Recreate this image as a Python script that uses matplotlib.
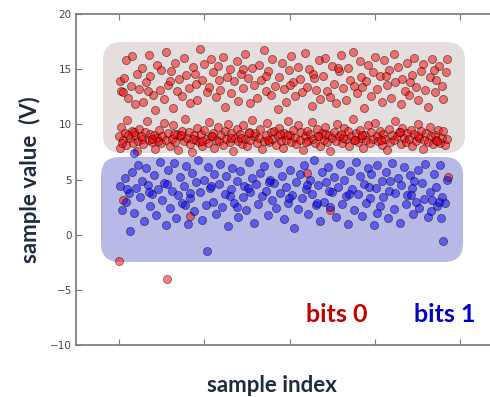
# scatter of sampled bit values, two groups
import matplotlib
matplotlib.use('Agg')
import matplotlib.pyplot as plt
from matplotlib.patches import FancyBboxPatch

# bits 0, lower band
red_lo_x = [0, 1, 3, 5, 7, 9, 10, 13, 15, 17,
            19, 21, 23, 24, 27, 29, 31, 33, 35, 37,
            39, 41, 43, 45, 47, 49, 51, 53, 55, 58,
            60, 62, 64, 66, 68, 70, 72, 74, 76, 78,
            80, 82, 84, 86, 88, 90, 92, 94, 96, 98,
            100, 102, 104, 106, 108, 110, 112, 114, 116, 118,
            120, 122, 124, 126, 128, 130, 132, 134, 136, 138,
            140, 142, 144, 146, 148, 150, 152, 154, 156, 158,
            160, 162, 164, 166, 168, 170, 172, 174, 176, 178,
            180, 182, 184, 186, 188, 190, 192, 194, 196, 198,
            200, 202, 204, 206, 208, 210, 212, 214, 216, 218,
            220, 222, 224, 226, 228, 230, 232, 234, 236, 238,
            240, 242, 244, 246, 248, 250, 252, 254, 256, 258,
            260, 262, 264, 266, 268, 270, 272, 274, 276, 278,
            280, 282, 284, 286, 288, 290, 292, 294, 296, 298,
            300, 302, 304, 306, 308, 310, 312, 314, 316, 318,
            320, 322, 324, 326, 328, 330, 332, 334, 336, 338,
            340, 342, 344, 346, 348, 350, 352, 354, 356, 358,
            360, 362, 364, 366, 368, 370, 372, 374, 376, 378,
            380, 382, 384, 4, 11, 26, 46, 65, 87, 109,
            131, 153, 175, 197, 219, 241, 263, 285, 307, 329,
            351, 373, 18, 39, 73, 97, 143, 189, 233, 277]
red_lo_y = [8.9, 7.9, 9.8, 8.6, 9.2, 8.1, 10.4, 8.8, 9.4, 8.3,
            9.0, 7.6, 8.5, 9.6, 8.7, 8.2, 9.3, 10.3, 8.6, 9.1,
            8.4, 9.0, 7.8, 8.8, 9.5, 8.3, 8.9, 10.1, 8.6, 9.2,
            8.0, 8.7, 9.9, 8.4, 9.1, 7.7, 8.9, 9.4, 8.5, 10.5,
            8.8, 9.3, 8.2, 7.5, 9.0, 8.6, 9.7, 8.4, 9.1, 8.0,
            9.5, 8.7, 8.3, 10.2, 8.9, 9.2, 7.9, 8.6, 9.8, 8.5,
            9.0, 8.1, 9.4, 8.7, 10.0, 8.4, 9.2, 7.6, 8.8, 9.6,
            8.5, 9.1, 8.2, 9.9, 8.7, 8.0, 9.3, 8.6, 10.4, 8.9,
            9.2, 8.3, 8.8, 9.6, 7.8, 8.5, 9.0, 10.1, 8.4, 9.3,
            8.7, 9.4, 8.1, 8.9, 9.7, 8.5, 7.9, 9.2, 8.6, 10.3,
            9.0, 8.4, 9.5, 8.8, 8.2, 9.9, 8.6, 9.3, 7.7, 8.9,
            9.4, 8.5, 9.1, 10.2, 8.7, 8.3, 9.6, 8.9, 8.0, 9.2,
            8.6, 9.8, 8.4, 9.0, 7.6, 8.8, 9.3, 8.5, 10.0, 8.9,
            9.1, 8.3, 9.7, 8.7, 9.4, 8.0, 8.9, 10.5, 8.6, 9.2,
            8.4, 9.5, 8.8, 7.9, 9.0, 8.6, 9.9, 8.3, 9.3, 8.7,
            10.1, 8.9, 8.5, 9.4, 8.1, 9.1, 8.7, 7.7, 9.6, 8.4,
            9.0, 8.6, 10.3, 8.9, 9.3, 8.2, 9.7, 8.8, 8.4, 9.2,
            8.7, 9.5, 8.0, 9.1, 8.5, 10.0, 8.8, 9.4, 7.8, 8.6,
            9.2, 8.4, 9.8, 8.9, 8.2, 9.0, 8.6, 9.5, 8.3, 8.8,
            9.4, 8.1, 8.7, 8.3, 9.0, 8.9, 8.5, 9.1, 8.7, 8.9,
            8.8, 9.2, 8.6, 9.0, 8.4, 9.1, 8.8, 9.0, 8.6, 9.3,
            8.9, 8.5, 9.3, 8.7, 9.0, 8.5, 8.8, 9.1, 8.9, 8.6]

# bits 0, upper band
red_hi_x = [1, 3, 6, 8, 11, 14, 16, 19, 22, 24,
            27, 29, 32, 35, 37, 40, 42, 45, 48, 50,
            53, 55, 58, 61, 63, 66, 68, 71, 74, 76,
            79, 82, 84, 87, 90, 92, 95, 98, 100, 103,
            106, 108, 111, 114, 116, 119, 122, 124, 127, 130,
            132, 135, 138, 140, 143, 146, 148, 151, 154, 156,
            159, 162, 164, 167, 170, 172, 175, 178, 180, 183,
            186, 188, 191, 194, 196, 199, 202, 204, 207, 210,
            212, 215, 218, 220, 223, 226, 228, 231, 234, 236,
            239, 242, 244, 247, 250, 252, 255, 258, 260, 263,
            266, 268, 271, 274, 276, 279, 282, 284, 287, 290,
            292, 295, 298, 300, 303, 306, 308, 311, 314, 316,
            319, 322, 324, 327, 330, 332, 335, 338, 340, 343,
            346, 348, 351, 354, 356, 359, 362, 364, 367, 370,
            372, 375, 378, 380, 383, 385, 5, 34, 60, 89,
            117, 145, 173, 201, 229, 257, 285, 313, 341, 369]
red_hi_y = [13.9, 13.0, 14.2, 15.8, 12.4, 13.5, 16.2, 11.8, 14.6, 13.2,
            15.1, 12.0, 13.8, 16.3, 14.4, 12.7, 11.3, 15.4, 13.1, 14.9,
            12.3, 16.6, 13.6, 14.8, 11.5, 15.6, 13.0, 14.1, 12.6, 16.0,
            14.5, 13.3, 11.9, 15.2, 13.7, 12.2, 16.8, 14.0, 15.5, 12.9,
            13.4, 15.9, 14.7, 12.5, 15.3, 13.1, 16.1, 11.6, 14.3, 15.0,
            12.8, 13.9, 15.7, 12.1, 14.6, 13.3, 16.4, 14.2, 11.9, 15.1,
            13.6, 12.4, 15.4, 14.0, 16.7, 13.0, 14.8, 12.7, 15.9, 13.5,
            11.4, 14.3, 15.6, 13.2, 12.0, 14.9, 16.2, 13.8, 12.6, 15.2,
            14.1, 12.9, 16.5, 13.4, 15.0, 11.7, 14.6, 13.1, 15.8, 12.3,
            14.4, 16.0, 13.0, 12.5, 15.3, 13.7, 11.9, 14.8, 16.3, 13.3,
            12.2, 15.1, 14.0, 16.6, 13.5, 12.8, 15.7, 14.3, 11.5, 13.9,
            15.4, 12.6, 14.7, 16.1, 13.2, 14.4, 12.0, 15.8, 13.6, 14.9,
            12.4, 16.4, 13.8, 15.2, 11.8, 14.1, 13.0, 15.6, 12.7, 14.5,
            16.0, 13.4, 12.2, 14.8, 15.5, 13.1, 11.6, 14.3, 15.9, 12.9,
            14.0, 15.3, 13.5, 12.3, 14.7, 15.9, 12.9, 13.0, 13.9, 14.6,
            14.0, 15.0, 14.4, 13.6, 14.2, 15.1, 13.4, 14.4, 13.8, 14.9]

# bits 0 that landed low
red_out_x = [0, 57, 5, 84, 247, 220, 386]
red_out_y = [-2.4, -4.0, 3.1, 1.7, 2.2, 5.6, 5.2]

# bits 1
blue_x = [2, 4, 7, 9, 12, 13, 15, 18, 20, 23,
          25, 27, 30, 32, 34, 37, 39, 41, 44, 46,
          48, 51, 53, 55, 58, 60, 62, 65, 67, 69,
          72, 74, 76, 79, 81, 83, 86, 88, 90, 93,
          95, 97, 100, 102, 103, 105, 107, 110, 112, 114,
          117, 119, 121, 124, 126, 128, 131, 133, 135, 138,
          140, 142, 145, 147, 149, 152, 154, 156, 159, 161,
          163, 166, 168, 170, 173, 175, 177, 180, 182, 184,
          187, 189, 191, 194, 196, 198, 201, 203, 205, 208,
          210, 212, 215, 217, 219, 222, 224, 226, 229, 231,
          233, 236, 238, 240, 243, 245, 247, 250, 252, 254,
          257, 259, 261, 264, 266, 268, 271, 273, 275, 278,
          280, 282, 285, 287, 289, 292, 294, 296, 299, 301,
          303, 306, 308, 310, 313, 315, 317, 320, 322, 324,
          327, 329, 331, 334, 336, 338, 341, 343, 345, 348,
          350, 352, 355, 357, 359, 362, 364, 366, 369, 371,
          373, 376, 378, 380, 382, 384, 10, 36, 57, 84,
          108, 130, 151, 176, 199, 221, 246, 270, 293, 318,
          342, 367, 375, 18, 78, 139, 232, 302, 346, 377]
blue_y = [4.4, 2.2, 5.1, 3.0, 3.8, 0.3, 5.7, 2.0, 4.2, 6.3,
          3.4, 4.9, 1.2, 6.0, 4.5, 2.6, 3.7, 5.4, 1.8, 4.1,
          6.6, 3.1, 4.7, 0.9, 5.9, 2.4, 4.0, 6.5, 1.5, 3.6,
          5.2, 2.9, 4.4, 6.2, 1.0, 3.3, 5.6, 2.1, 4.8, 6.8,
          3.9, 1.3, 5.0, 2.7, -1.5, 6.1, 4.2, 3.0, 5.5, 1.9,
          4.6, 6.4, 2.5, 3.7, 5.3, 0.8, 4.1, 6.0, 2.9, 4.9,
          1.6, 5.8, 3.4, 4.4, 2.2, 6.6, 3.9, 5.1, 1.1, 4.6,
          2.8, 5.6, 3.5, 6.2, 4.0, 1.8, 5.0, 3.1, 4.7, 2.4,
          6.5, 3.8, 5.3, 1.4, 4.3, 2.9, 5.9, 3.6, 0.6, 4.8,
          2.3, 5.5, 3.3, 6.3, 4.1, 1.9, 5.0, 3.7, 6.8, 2.7,
          4.5, 1.2, 5.7, 3.0, 4.8, 6.1, 2.5, 3.9, 5.2, 1.6,
          4.3, 6.4, 2.8, 5.0, 3.5, 1.0, 5.8, 4.1, 2.2, 6.6,
          3.7, 5.3, 1.7, 4.6, 2.9, 6.0, 3.3, 5.5, 0.9, 4.2,
          6.3, 2.6, 4.9, 3.4, 5.7, 1.5, 4.0, 6.5, 2.3, 3.8,
          5.1, 1.1, 4.5, 6.1, 2.8, 3.6, 5.4, 4.2, 1.9, 3.0,
          5.9, 2.4, 4.7, 3.2, 6.4, 1.6, 3.9, 2.1, 5.5, 4.3,
          2.6, 6.3, 3.4, -0.6, 2.9, 5.0, 4.1, 3.9, 4.6, 3.8,
          4.4, 3.5, 4.2, 4.8, 3.3, 4.5, 4.0, 3.7, 4.3, 4.9,
          3.6, 3.1, 3.0, 7.4, 2.7, 2.5, 2.9, 2.0, 4.9, 1.5]

x_ticks = [0, 100, 200, 300, 400]
y_ticks = [-10, -5, 0, 5, 10, 15, 20]

W, H = 490, 397
fig = plt.figure(figsize=(W / 100, H / 100), dpi=100)
# right edge runs past the picture, like the cropped original
ax = fig.add_axes([76 / W, 52 / H, 427 / W, 331 / H])
ax.set_facecolor('none')


def rbox(x0, y0, x1, y1, color):
    # pixel box -> figure fraction, rounded corners of equal radius
    b = FancyBboxPatch((x0 / W, 1 - y1 / H), (x1 - x0) / W, (y1 - y0) / H,
                       boxstyle='round,pad=0,rounding_size=0.038',
                       mutation_aspect=W / H, transform=fig.transFigure,
                       facecolor=color, edgecolor='none', zorder=0)
    ax.add_patch(b)


rbox(103, 42, 465, 153, '#e4dedc')
rbox(101, 157, 463, 262, '#b9b9e7')

kw = dict(s=34, alpha=0.5, edgecolors='k', linewidths=0.6, zorder=3)
ax.scatter(red_lo_x, red_lo_y, c='r', **kw)
ax.scatter(red_hi_x, red_hi_y, c='r', **kw)
ax.scatter(red_out_x, red_out_y, c='r', **kw)
ax.scatter(blue_x, blue_y, c='b', **kw)

ax.set_xlim(-50, 450)
ax.set_ylim(-10, 20)
ax.set_xticks(x_ticks)
ax.set_xticklabels([])
ax.set_yticks(y_ticks)
ax.set_yticklabels([str(v).replace('-', '\u2212') for v in y_ticks])
ax.tick_params(direction='in', length=4, width=0.8, color='#777777',
               top=True, right=True, labelsize=7.5, labelcolor='#444444', pad=3)
for sp in ax.spines.values():
    sp.set_color('#777777')
    sp.set_linewidth(1.2)

fig.text(30 / W, 1 - 180 / H, 'sample value  (V)', rotation=90, ha='center',
         va='center', fontsize=16, fontweight='bold', color='#1f2a3c',
         family='Lato')
fig.text(272 / W, 1 - 385 / H, 'sample index', ha='center', va='center',
         fontsize=16, fontweight='bold', color='#1f2a3c', family='Lato')
fig.text(337 / W, 1 - 315 / H, 'bits 0', ha='center', va='center',
         fontsize=18, fontweight='bold', color='#c00000', family='Lato')
fig.text(445 / W, 1 - 315 / H, 'bits 1', ha='center', va='center',
         fontsize=18, fontweight='bold', color='#0000c0', family='Lato')

fig.savefig('out.png', dpi=100)
